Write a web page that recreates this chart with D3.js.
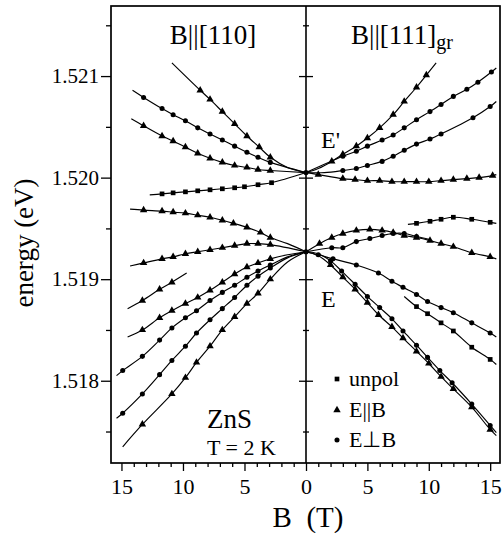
<!DOCTYPE html>
<html><head><meta charset="utf-8">
<script src="https://cdn.jsdelivr.net/npm/d3@7"></script>
<style>
body{margin:0;background:#fff}
svg{display:block}
text{font-family:"Liberation Serif","Times New Roman",serif;fill:#000}
</style>
</head><body>
<svg id="c" width="503" height="533"></svg>
<script>
// ---------- data: [B (T), energy (eV), marker shown 1/0] ----------
const yMajor = [1.518, 1.519, 1.520, 1.521];
const yMinor = [1.5175, 1.5185, 1.5195, 1.5205, 1.5215];
const yTickLabels = ["1.518", "1.519", "1.520", "1.521"];
const xMajorLeft = [15, 10, 5];
const xMajorRight = [0, 5, 10, 15];
const xMinor = [1,2,3,4,6,7,8,9,11,12,13,14];
const panelTitles = ["B||[110]", "B||[111]"];
const legendLabels = ["unpol", "E||B", "E\u22a5B"];

// B || [110]  (left half)
const L_tri1 = [[0,1.52005,0],[1.5,1.52010,0],[2.9,1.52020,1],[3.8,1.52030,1],[4.8,1.52041,1],[5.8,1.52053,1],[6.8,1.52065,1],[7.8,1.52077,1],[8.6,1.52086,1],[10.9,1.52113,0]];
const L_cir1 = [[0,1.52005,0],[2.9,1.52015,1],[3.9,1.52020,1],[4.8,1.52025,1],[5.8,1.52031,1],[6.8,1.52037,1],[7.8,1.52043,1],[8.8,1.52049,1],[9.8,1.52056,1],[10.8,1.52062,1],[11.7,1.52068,1],[13.2,1.52079,1],[14.1,1.52086,0]];
const L_tri2 = [[0,1.52005,0],[2.9,1.52007,1],[3.9,1.52008,1],[4.8,1.52010,1],[5.8,1.52012,1],[6.8,1.52015,1],[7.8,1.52019,1],[8.8,1.52024,1],[9.8,1.52030,1],[10.8,1.52036,1],[11.7,1.52041,1],[13.2,1.52051,1],[14.2,1.52058,0]];
const L_sq1  = [[0,1.52005,0],[2.8,1.51995,1],[3.9,1.51993,1],[5.0,1.51991,1],[5.8,1.51990,1],[6.8,1.51989,1],[7.8,1.51988,1],[8.8,1.51987,1],[9.8,1.51986,1],[10.8,1.51985,1],[11.7,1.51984,1],[12.7,1.51983,0]];
const L_tri3 = [[0,1.51927,0],[1.5,1.51935,0],[2.9,1.51941,1],[3.7,1.51946,1],[4.8,1.51951,1],[5.9,1.51955,1],[6.8,1.51958,1],[7.8,1.51961,1],[8.8,1.51963,1],[9.8,1.51965,1],[10.8,1.51966,1],[11.7,1.51967,1],[13.2,1.51968,1],[14.3,1.51969,0]];
const L_tri4 = [[0,1.51927,0],[2.9,1.51934,1],[3.9,1.51935,1],[4.8,1.51935,1],[5.8,1.51933,1],[6.8,1.51931,1],[7.8,1.51929,1],[8.8,1.51927,1],[9.8,1.51925,1],[10.8,1.51922,1],[11.7,1.51920,1],[13.2,1.51916,1],[14.3,1.51913,0]];
const L_tri5 = [[9.7,1.51906,0],[10.9,1.51897,1],[11.9,1.51890,1],[13.3,1.51879,1],[14.5,1.51871,0]];
const L_tri6 = [[0,1.51927,0],[1.5,1.51924,0],[2.9,1.51920,1],[3.9,1.51916,1],[4.8,1.51912,1],[5.8,1.51905,1],[6.8,1.51897,1],[7.8,1.51889,1],[8.8,1.51882,1],[9.8,1.51876,1],[10.9,1.51869,1],[11.9,1.51862,1],[13.3,1.51850,1],[14.5,1.51843,0]];
const L_cir2 = [[0,1.51927,0],[1.5,1.51922,0],[2.9,1.51914,1],[3.9,1.51908,1],[4.8,1.51902,1],[5.8,1.51894,1],[6.8,1.51887,1],[7.8,1.51879,1],[8.9,1.51869,1],[9.8,1.51862,1],[10.9,1.51852,1],[11.9,1.51840,1],[13.3,1.51824,1],[14.9,1.51810,1],[15.4,1.51805,0]];
const L_cir3 = [[0,1.51927,0],[1.5,1.51921,0],[2.9,1.51911,1],[3.9,1.51903,1],[4.8,1.51894,1],[5.8,1.51882,1],[6.8,1.51871,1],[7.8,1.51860,1],[8.9,1.51847,1],[9.8,1.51834,1],[10.9,1.51820,1],[11.9,1.51806,1],[13.3,1.51787,1],[14.9,1.51768,1],[15.4,1.51763,0]];
const L_tri7 = [[0,1.51927,0],[1.5,1.51917,0],[2.9,1.51900,1],[3.9,1.51886,1],[4.8,1.51876,1],[5.8,1.51863,1],[6.8,1.51850,1],[7.8,1.51834,1],[8.9,1.51818,1],[9.8,1.51803,1],[10.9,1.51787,1],[13.3,1.51757,1],[14.9,1.51735,0]];

// B || [111]gr  (right half)
const R_tri1 = [[0,1.52005,0],[1.0,1.52009,0],[2.1,1.52016,1],[3.0,1.52023,1],[4.1,1.52031,1],[5.0,1.52039,1],[6.0,1.52049,1],[7.1,1.52062,1],[8.0,1.52075,1],[9.0,1.52089,1],[9.8,1.52101,1],[10.6,1.52113,0]];
const R_cir1 = [[0,1.52005,0],[3.0,1.52021,1],[4.1,1.52026,1],[5.0,1.52031,1],[6.2,1.52037,1],[7.1,1.52042,1],[8.0,1.52049,1],[9.0,1.52057,1],[10.1,1.52065,1],[11.0,1.52072,1],[12.0,1.52080,1],[13.1,1.52087,1],[14.0,1.52094,1],[15.1,1.52104,1],[15.5,1.52108,0]];
const R_cir2 = [[0,1.52005,0],[1.5,1.52005,0],[3.0,1.52007,1],[4.1,1.52009,1],[5.0,1.52012,1],[6.2,1.52016,1],[7.1,1.52021,1],[8.0,1.52027,1],[9.0,1.52033,1],[10.1,1.52038,1],[11.0,1.52043,1],[13.6,1.52059,1],[15.0,1.52070,1],[15.5,1.52075,0]];
const R_tri2 = [[0,1.52005,0],[1.0,1.52003,1],[3.0,1.51999,1],[4.0,1.51998,1],[5.0,1.51997,1],[6.0,1.51997,1],[7.0,1.51996,1],[8.0,1.51996,1],[9.0,1.51996,1],[10.0,1.51996,1],[11.0,1.51997,1],[12.0,1.51998,1],[13.1,1.51999,1],[14.1,1.52000,1],[15.2,1.52002,1],[15.5,1.52003,0]];
const R_sq1  = [[8.3,1.51954,0],[9.0,1.51955,1],[10.1,1.51957,1],[11.0,1.51959,1],[12.0,1.51961,1],[13.5,1.51959,1],[15.0,1.51956,1],[15.5,1.51955,0]];
const R_tri3 = [[0,1.51927,0],[1.1,1.51935,1],[2.1,1.51941,1],[3.0,1.51945,1],[4.1,1.51948,1],[5.2,1.51949,1],[6.2,1.51948,1],[7.1,1.51946,1],[8.0,1.51943,1],[9.0,1.51941,1],[10.1,1.51938,1],[11.0,1.51935,1],[12.0,1.51932,1],[13.5,1.51926,1],[15.0,1.51922,1],[15.5,1.51920,0]];
const R_cir3 = [[0,1.51927,0],[2.1,1.51931,1],[3.0,1.51931,1],[4.1,1.51937,1],[5.2,1.51940,1],[6.2,1.51943,1],[7.1,1.51945,1],[8.0,1.51945,1],[9.0,1.51942,1],[10.1,1.51939,0]];
const R_cir4 = [[0,1.51927,0],[1.0,1.51924,1],[2.2,1.51920,1],[4.1,1.51914,1],[5.9,1.51906,1],[7.0,1.51898,1],[7.9,1.51892,1],[9.0,1.51885,1],[9.9,1.51878,1],[11.0,1.51872,1],[12.0,1.51867,1],[13.5,1.51857,1],[15.0,1.51847,1],[15.5,1.51843,0]];
const R_sq2  = [[8.0,1.51883,0],[9.0,1.51873,1],[9.9,1.51866,1],[11.0,1.51857,1],[12.0,1.51849,1],[13.5,1.51833,1],[15.0,1.51821,1],[15.5,1.51816,0]];
const R_cir5 = [[0,1.51927,0],[1.0,1.51925,0],[2.0,1.51918,1],[2.9,1.51908,1],[4.0,1.51895,1],[5.0,1.51883,1],[6.0,1.51872,1],[7.0,1.51861,1],[7.9,1.51849,1],[9.0,1.51835,1],[9.9,1.51823,1],[10.9,1.51810,1],[11.9,1.51798,1],[13.5,1.51777,1],[15.0,1.51756,1],[15.5,1.51749,0]];
const R_tri4 = [[0,1.51927,0],[1.0,1.51923,0],[2.0,1.51914,1],[3.0,1.51902,1],[4.0,1.51890,1],[5.0,1.51877,1],[5.9,1.51865,1],[7.0,1.51853,1],[7.9,1.51842,1],[9.0,1.51829,1],[10.0,1.51817,1],[11.0,1.51804,1],[12.0,1.51792,1],[13.5,1.51774,1],[15.0,1.51752,1],[15.5,1.51746,0]];

const crossings = [1.52005, 1.51927];

const seriesList = [
  {side:"L", m:"tri", d:L_tri1},{side:"L", m:"cir", d:L_cir1},{side:"L", m:"tri", d:L_tri2},{side:"L", m:"sq", d:L_sq1},
  {side:"L", m:"tri", d:L_tri3},{side:"L", m:"tri", d:L_tri4},{side:"L", m:"tri", d:L_tri5},{side:"L", m:"tri", d:L_tri6},
  {side:"L", m:"cir", d:L_cir2},{side:"L", m:"cir", d:L_cir3},{side:"L", m:"tri", d:L_tri7},
  {side:"R", m:"tri", d:R_tri1},{side:"R", m:"cir", d:R_cir1},{side:"R", m:"cir", d:R_cir2},{side:"R", m:"tri", d:R_tri2},
  {side:"R", m:"sq", d:R_sq1},{side:"R", m:"tri", d:R_tri3},{side:"R", m:"cir", d:R_cir3},{side:"R", m:"cir", d:R_cir4},
  {side:"R", m:"sq", d:R_sq2},{side:"R", m:"cir", d:R_cir5},{side:"R", m:"tri", d:R_tri4}
];

// ---------- layout ----------
const FX0 = 111, FX1 = 500, CX = 306, FY0 = 6, FY1 = 463;
const svg = d3.select("#c");
const y = d3.scaleLinear().domain([1.51719, 1.52169]).range([FY1, FY0]);
const xL = d3.scaleLinear().domain([15.85, 0]).range([FX0, CX]);
const xR = d3.scaleLinear().domain([0, 15.8]).range([CX, FX1]);

const symType = {tri: d3.symbolTriangle, cir: d3.symbolCircle, sq: d3.symbolSquare};
const symSize = {tri: 24, cir: 20, sq: 22};

const line = d3.line().curve(d3.curveCatmullRom.alpha(0.5));
const plot = svg.append("g");
seriesList.forEach(s => {
  const xs = s.side === "L" ? xL : xR;
  plot.append("path")
    .attr("d", line(s.d.map(p => [xs(p[0]), y(p[1])])))
    .attr("fill", "none").attr("stroke", "#000").attr("stroke-width", 1.15);
  plot.selectAll(null).data(s.d.filter(p => p[2] === 1)).enter().append("path")
    .attr("transform", p => `translate(${xs(p[0])},${y(p[1])})`)
    .attr("d", d3.symbol().type(symType[s.m]).size(symSize[s.m]))
    .attr("fill", "#000");
});
// crossing points
plot.selectAll(null).data(crossings).enter().append("circle")
  .attr("cx", xR(0)).attr("cy", d => y(d)).attr("r", 2.6).attr("fill", "#000");

// frame
svg.append("rect").attr("x", FX0).attr("y", FY0).attr("width", FX1 - FX0).attr("height", FY1 - FY0)
  .attr("fill", "none").attr("stroke", "#000").attr("stroke-width", 1.7);
svg.append("line").attr("x1", CX).attr("x2", CX).attr("y1", FY0).attr("y2", FY1)
  .attr("stroke", "#000").attr("stroke-width", 1.6);

function styleAxis(g, fs) {
  g.select(".domain").remove();
  g.selectAll("line").attr("stroke", "#000").attr("stroke-width", 1.3);
  g.selectAll("text").style("font-size", fs + "px").style("font-family", '"Liberation Serif",serif');
}
// left y axis
const gy = svg.append("g").attr("transform", `translate(${FX0},0)`)
  .call(d3.axisLeft(y).tickValues(yMajor).tickSize(10).tickPadding(2).tickFormat((d, i) => yTickLabels[i]));
styleAxis(gy, 21);
const gym = svg.append("g").attr("transform", `translate(${FX0},0)`)
  .call(d3.axisLeft(y).tickValues(yMinor).tickSize(5).tickFormat(""));
styleAxis(gym, 10);
// center ticks (crossing)
[d3.axisLeft, d3.axisRight].forEach(ax => {
  const g1 = svg.append("g").attr("transform", `translate(${CX},0)`)
    .call(ax(y).tickValues(yMajor).tickSize(7).tickFormat(""));
  styleAxis(g1, 10);
  const g2 = svg.append("g").attr("transform", `translate(${CX},0)`)
    .call(ax(y).tickValues(yMinor).tickSize(3).tickFormat(""));
  styleAxis(g2, 10);
});
// bottom axes
const gxl = svg.append("g").attr("transform", `translate(0,${FY1})`)
  .call(d3.axisBottom(xL).tickValues(xMajorLeft).tickSize(8).tickPadding(7));
styleAxis(gxl, 22);
const gxr = svg.append("g").attr("transform", `translate(0,${FY1})`)
  .call(d3.axisBottom(xR).tickValues(xMajorRight).tickSize(8).tickPadding(7));
styleAxis(gxr, 22);
const gxlm = svg.append("g").attr("transform", `translate(0,${FY1})`)
  .call(d3.axisBottom(xL).tickValues(xMinor).tickSize(4).tickFormat(""));
styleAxis(gxlm, 10);
const gxrm = svg.append("g").attr("transform", `translate(0,${FY1})`)
  .call(d3.axisBottom(xR).tickValues(xMinor).tickSize(4).tickFormat(""));
styleAxis(gxrm, 10);

// axis titles
svg.append("text").attr("transform", "translate(33,243) rotate(-90)")
  .attr("text-anchor", "middle").style("font-size", "27px").text("energy (eV)");
svg.append("text").attr("x", 308).attr("y", 527).attr("text-anchor", "middle")
  .style("font-size", "29px").attr("xml:space", "preserve").text("B  (T)");

// panel titles
svg.append("text").attr("x", 213).attr("y", 44).attr("text-anchor", "middle")
  .style("font-size", "27px").text(panelTitles[0]);
const t2 = svg.append("text").attr("x", 351).attr("y", 44).style("font-size", "27px");
t2.append("tspan").text(panelTitles[1]);
t2.append("tspan").attr("dy", 5).style("font-size", "20px").text("gr");

// level labels
svg.append("text").attr("x", 321).attr("y", 148).style("font-size", "24px").text("E'");
svg.append("text").attr("x", 321).attr("y", 307).style("font-size", "24px").text("E");

// sample labels
svg.append("text").attr("x", 207).attr("y", 428).style("font-size", "27px").text("ZnS");
svg.append("text").attr("x", 207).attr("y", 455).style("font-size", "22px").attr("xml:space", "preserve").text("T = 2 K");

// legend
const legY = [379, 410, 440];
const legM = ["sq", "tri", "cir"];
legendLabels.forEach((lab, i) => {
  svg.append("path").attr("transform", `translate(337,${legY[i]})`)
    .attr("d", d3.symbol().type(symType[legM[i]]).size(symSize[legM[i]])).attr("fill", "#000");
  svg.append("text").attr("x", 349).attr("y", legY[i] + 7).style("font-size", "22px").text(lab);
});
</script>
</body></html>
